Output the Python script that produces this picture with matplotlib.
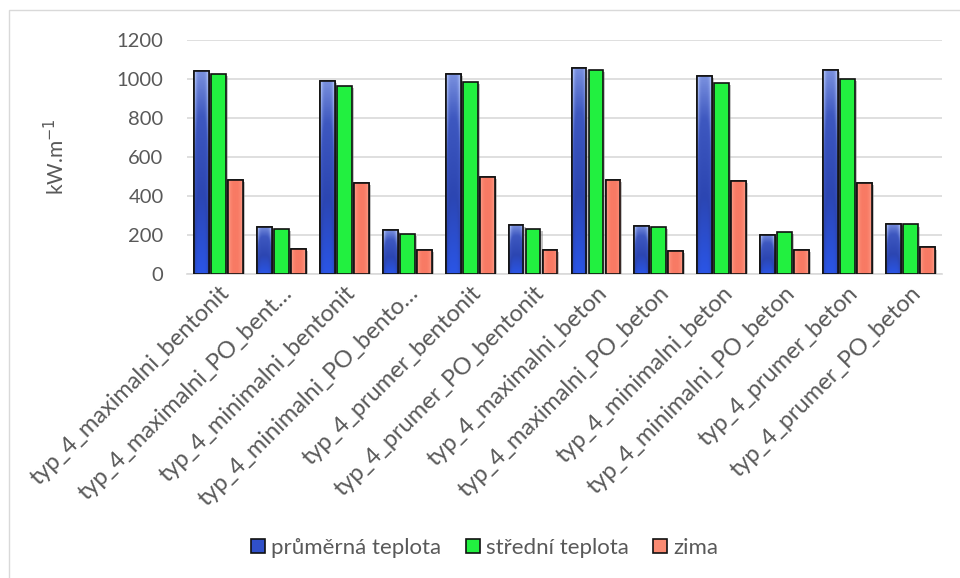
import numpy as np
import matplotlib
matplotlib.use("Agg")
import matplotlib.pyplot as plt
from matplotlib.colors import LinearSegmentedColormap
from matplotlib.patches import Rectangle
import matplotlib.patheffects as pe

plt.rcParams["font.family"] = ["Lato", "DejaVu Sans"]

categories = [
    "typ_4_maximalni_bentonit",
    "typ_4_maximalni_PO_bent…",
    "typ_4_minimalni_bentonit",
    "typ_4_minimalni_PO_bento…",
    "typ_4_prumer_bentonit",
    "typ_4_prumer_PO_bentonit",
    "typ_4_maximalni_beton",
    "typ_4_maximalni_PO_beton",
    "typ_4_minimalni_beton",
    "typ_4_minimalni_PO_beton",
    "typ_4_prumer_beton",
    "typ_4_prumer_PO_beton",
]
prumerna = [1038, 241, 991, 224, 1024, 251, 1058, 248, 1014, 202, 1045, 258]
stredni = [1024, 232, 963, 207, 984, 231, 1045, 241, 979, 214, 1001, 254]
zima = [482, 129, 465, 122, 495, 122, 482, 119, 478, 122, 465, 136]
series_names = ["průměrná teplota", "střední teplota", "zima"]

text_col = "#595959"

fig = plt.figure(figsize=(9.6, 5.78), dpi=100)
ax = fig.add_axes([0.195, 0.526, 0.786, 0.405])

# light frame around the whole chart
fig.patches.append(Rectangle((0.0095, -0.01), 1.0, 0.993, transform=fig.transFigure,
                             fill=False, edgecolor="#D9D9D9", lw=1))

x = np.arange(len(categories))
w = 0.235
step = 0.27
shadow = [pe.SimplePatchShadow(offset=(1.5, -1.5), shadow_rgbFace="#888888", alpha=0.5), pe.Normal()]

blue_cmap = LinearSegmentedColormap.from_list("b", ["#2a55e6", "#2c46b2", "#3e58c0", "#a8bcf6"])
red_cmap = LinearSegmentedColormap.from_list("r", ["#f87a64", "#ffa592"])

bars_b = ax.bar(x - step, prumerna, w, color="#3050c8", edgecolor="#111111", lw=1.2, zorder=3)
bars_g = ax.bar(x, stredni, w, color="#22f040", edgecolor="#111111", lw=1.2, zorder=3)
bars_r = ax.bar(x + step, zima, w, color="#f98a72", edgecolor="#111111", lw=1.2, zorder=3)

for bars in (bars_b, bars_g, bars_r):
    for b in bars:
        b.set_path_effects(shadow)

# gradients
hz = np.abs(np.linspace(-1, 1, 40))
for b in bars_b:
    vx, vy = b.get_x(), b.get_height()
    vert = np.linspace(0, 1, 100)[:, None]
    grad = np.clip(vert * 0.85 + (hz[None, :] ** 4) * 0.35, 0, 1)
    im = ax.imshow(grad, extent=(vx, vx + b.get_width(), 0, vy), origin="lower",
                   cmap=blue_cmap, aspect="auto", zorder=3.5, vmin=0, vmax=1)
    im.set_clip_path(b)
for b in bars_r:
    vx, vy = b.get_x(), b.get_height()
    grad = np.tile(hz[None, :] ** 3, (10, 1))
    im = ax.imshow(grad, extent=(vx, vx + b.get_width(), 0, vy), origin="lower",
                   cmap=red_cmap, aspect="auto", zorder=3.5, vmin=0, vmax=1)
    im.set_clip_path(b)
# redraw edges on top of gradients
for bars in (bars_b, bars_r):
    for b in bars:
        ax.add_patch(Rectangle((b.get_x(), 0), b.get_width(), b.get_height(),
                               fill=False, edgecolor="#111111", lw=1.2, zorder=4))

ax.set_xlim(-0.5, len(categories) - 0.5)
ax.set_ylim(0, 1200)
ax.set_yticks(range(0, 1201, 200))
ax.yaxis.grid(True, color="#D9D9D9", lw=1.2, zorder=0)
ax.set_axisbelow(True)
for s in ["top", "right", "left"]:
    ax.spines[s].set_visible(False)
ax.spines["bottom"].set_color("#D9D9D9")
ax.spines["bottom"].set_linewidth(1.2)
ax.tick_params(axis="both", length=0, colors=text_col)
ax.tick_params(axis="y", pad=17, labelsize=14.5)
ax.tick_params(axis="x", pad=6)
ax.set_xticks(x)
ax.set_xticklabels(categories, rotation=45, ha="right", rotation_mode="anchor",
                   fontsize=17, color=text_col)
ax.set_ylabel("kW.m$^{-1}$", fontsize=15, color=text_col)
ax.yaxis.set_label_coords(-0.158, 0.5)

handles = [Rectangle((0, 0), 1, 1, facecolor=c, edgecolor="#111111", lw=1.2)
           for c in ("#3050c8", "#22f040", "#f98a72")]
fig.legend(handles, series_names, loc="center", bbox_to_anchor=(0.505, 0.052), ncol=3,
           frameon=False, fontsize=16, labelcolor=text_col, handlelength=0.63,
           handleheight=0.63, handletextpad=0.27, columnspacing=1.1)

fig.savefig("out.png", dpi=100)
